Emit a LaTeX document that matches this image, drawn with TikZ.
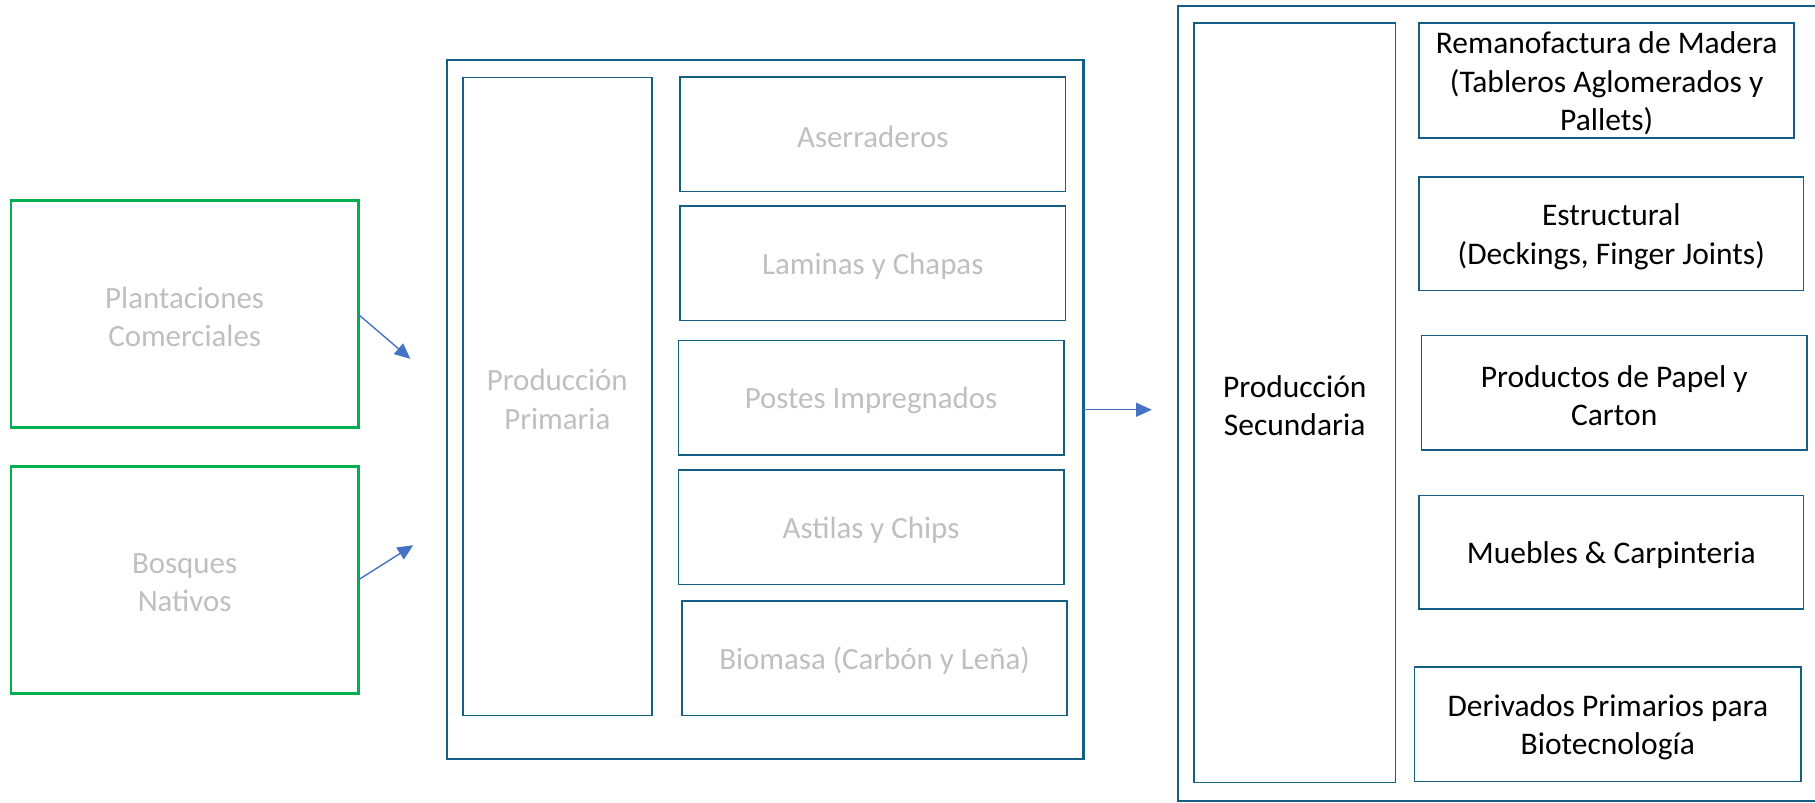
\documentclass[tikz,border=0pt]{standalone}
\usepackage{fontspec}
\setmainfont{Carlito}
\usetikzlibrary{arrows.meta}
\definecolor{grn}{HTML}{00B050}
\definecolor{tealb}{HTML}{156082}
\definecolor{arrowblue}{HTML}{4472C4}
\definecolor{lgray}{HTML}{BFBFBF}
\begin{document}
\begin{tikzpicture}[x=1pt,y=-1pt,
  base/.style={rectangle, inner sep=0pt, outer sep=0pt},
  srcbox/.style={base, draw=grn, line width=2.4pt},
  outerbox/.style={base, draw=tealb, line width=1.8pt},
  primbox/.style={base, draw=tealb, line width=1.4pt},
  secbox/.style={base, draw=tealb, line width=1.4pt},
  gtxt/.style={inner sep=0pt, align=center, text=lgray, yshift=-2.5pt,
    font=\fontsize{26.7}{33}\selectfont},
  btxt/.style={inner sep=0pt, align=center, text=black, yshift=-2.5pt,
    font=\fontsize{27.2}{33}\selectfont},
  flow/.style={draw=arrowblue, line width=1.2pt, -{Triangle[length=13.5pt,width=12pt]}}]
\useasboundingbox (0,0) rectangle (1568,693.7);
\begin{scope}
\clip (0,0) rectangle (1568,693.7);
% sources
\node[srcbox, minimum width=300pt, minimum height=196pt,
  label={[gtxt]center:{Plantaciones\\Comerciales}}] (plant) at (159.5,271.5) {};
\node[srcbox, minimum width=300pt, minimum height=196pt,
  label={[gtxt]center:{Bosques\\Nativos}}] (bosq) at (159.5,501) {};
% primary
\node[outerbox, minimum width=550pt, minimum height=604pt] (primout) at (661,354) {};
\node[primbox, minimum width=163pt, minimum height=551pt,
  label={[gtxt]center:{Producción\\Primaria}}] (prodprim) at (481.5,342.5) {};
\node[primbox, minimum width=333pt, minimum height=99pt,
  label={[gtxt]center:{Aserraderos}}] (aserr) at (754,116) {};
\node[primbox, minimum width=333pt, minimum height=99pt,
  label={[gtxt]center:{Laminas y Chapas}}] (lamin) at (754,227.5) {};
\node[primbox, minimum width=333pt, minimum height=99pt,
  label={[gtxt]center:{Postes Impregnados}}] (postes) at (752.5,343.5) {};
\node[primbox, minimum width=333pt, minimum height=99pt,
  label={[gtxt]center:{Astilas y Chips}}] (astil) at (752.5,455.5) {};
\node[primbox, minimum width=333pt, minimum height=99pt,
  label={[gtxt]center:{Biomasa (Carbón y Leña)}}] (biom) at (755.5,568.5) {};
% secondary
\node[outerbox, minimum width=600pt, minimum height=687pt] (secout) at (1317.5,348.5) {};
\node[secbox, minimum width=174pt, minimum height=656pt,
  label={[btxt]center:{Producción\\Secundaria}}] (prodsec) at (1118.5,348) {};
\node[secbox, minimum width=324pt, minimum height=99pt,
  label={[btxt]center:{Remanofactura de Madera\\(Tableros Aglomerados y\\Pallets)}}] (reman) at (1388,69.5) {};
\node[secbox, minimum width=332pt, minimum height=98pt,
  label={[btxt]center:{Estructural\\(Deckings, Finger Joints)}}] (estr) at (1392,202) {};
\node[secbox, minimum width=333pt, minimum height=99pt,
  label={[btxt]center:{Productos de Papel y\\Carton}}] (papel) at (1394.5,339.5) {};
\node[secbox, minimum width=332pt, minimum height=98pt,
  label={[btxt]center:{Muebles \& Carpinteria}}] (mueb) at (1392,477) {};
\node[secbox, minimum width=334pt, minimum height=99pt,
  label={[btxt]center:{Derivados Primarios para\\Biotecnología}}] (deriv) at (1389,625.5) {};
% connectors
\coordinate (e1) at (354.5,310);
\coordinate (e2) at (357,471);
\coordinate (e3) at (995,354);
\draw[flow] (plant.east) -- (e1);
\draw[flow] (bosq.east) -- (e2);
\draw[flow] (primout.east) -- (e3);
\end{scope}
\end{tikzpicture}
\end{document}
